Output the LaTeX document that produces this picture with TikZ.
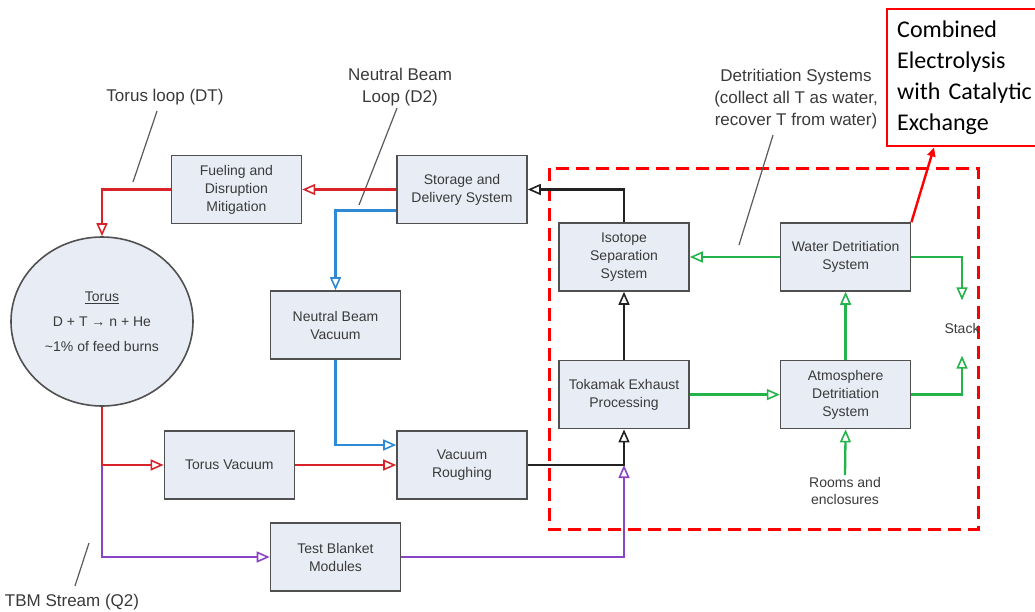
\documentclass[tikz,border=0pt]{standalone}
\usepackage{fontspec}
\setmainfont{Liberation Sans}
\newfontfamily\calibrifont{Carlito}
\usepackage{xcolor}
\usepackage{tikz}
\usetikzlibrary{arrows.meta,positioning,shapes.geometric}
\definecolor{boxfill}{HTML}{E8EDF5}
\definecolor{boxline}{HTML}{505050}
\definecolor{txtgray}{HTML}{3A3A3A}
\definecolor{flowred}{HTML}{D9232A}
\definecolor{flowblue}{HTML}{2F8AD6}
\definecolor{flowgreen}{HTML}{25B34B}
\definecolor{flowpurple}{HTML}{8A45C4}
\definecolor{flowblack}{HTML}{222222}
\definecolor{leadgray}{HTML}{5A5A5A}

\begin{document}
\begin{tikzpicture}[x=1pt,y=-1pt,>={Triangle[open,length=13pt,width=11pt,line width=1.6pt]},
    sysbox/.style={draw=boxline,fill=boxfill,line width=1.6pt,minimum width=130pt,minimum height=68pt,
      align=center,text=txtgray,font=\fontsize{14}{18}\selectfont},
    note/.style={text=txtgray,align=center,inner sep=2pt,font=\fontsize{17}{22}\selectfont},
    plaintext/.style={text=txtgray,align=center,inner sep=2pt,font=\fontsize{14}{17}\selectfont},
    flow/.style={line width=2.3pt,->},
    redflow/.style={flow,draw=flowred},
    blueflow/.style={flow,draw=flowblue},
    greenflow/.style={flow,draw=flowgreen},
    purpleflow/.style={flow,draw=flowpurple},
    blackflow/.style={flow,draw=flowblack},
    leader/.style={draw=leadgray,line width=1.2pt},
    detritbox/.style={draw=red,line width=3pt,dash pattern=on 13pt off 7pt},
    combline/.style={draw=red,line width=2.4pt,-{Triangle[length=9pt,width=8pt]}}]
  \useasboundingbox (0,0) rectangle (1035,611);

  % detritiation area
  \draw[detritbox] (549,168) rectangle (978,529);

  % systems
  \node[sysbox] (store) at (462,189.5) {Storage and\\Delivery System};
  \node[sysbox,left=94pt of store] (fuel) {Fueling and\\Disruption\\Mitigation};
  \node[sysbox] (nbv) at (335.5,325) {Neutral Beam\\Vacuum};
  \node[sysbox] (rough) at (462,465) {Vacuum\\Roughing};
  \node[sysbox,left=101pt of rough] (tvac) {Torus Vacuum};
  \node[sysbox] (tbm) at (335.5,557) {Test Blanket\\Modules};
  \node[sysbox] (iso) at (624,257) {Isotope\\Separation\\System};
  \node[sysbox,below=68pt of iso] (tok) {Tokamak Exhaust\\Processing};
  \node[sysbox,right=90pt of iso] (water) {Water Detritiation\\System};
  \node[sysbox,below=68pt of water] (atm) {Atmosphere\\Detritiation\\System};
  \node[ellipse,draw=boxline,fill=boxfill,line width=1.6pt,minimum width=182pt,minimum height=169pt,
    align=center,text=txtgray,font=\fontsize{14}{25}\selectfont] (torus) at (102,321.5)
    {\underline{Torus}\\D + T → n + He\\\textasciitilde1\% of feed burns};
  \node[plaintext] (rooms) at (845,491) {Rooms and\\enclosures};
  \node[plaintext,minimum height=55pt,inner sep=0pt] (stack) at (962,328) {Stack};
  \node[draw=red,line width=2.4pt,anchor=north west,minimum height=137pt,text width=140pt,
    inner xsep=10pt,align=left,font=\calibrifont\fontsize{24}{31}\selectfont] (comb) at (886,8)
    {Combined\\Electrolysis\\with Catalytic\\Exchange};

  % labels
  \node[note] (dtloop) at (165,97) {Torus loop (DT)};
  \node[note] (nbloop) at (400,87) {Neutral Beam\\Loop (D2)};
  \node[note] (detrit) at (796,99) {Detritiation Systems\\(collect all T as water,\\recover T from water)};
  \node[note] (tbmnote) at (72,602) {TBM Stream (Q2)};
  \coordinate (dtpin) at (133,182);
  \coordinate (nbpin) at (359,205);
  \coordinate (detpin) at (739,245);
  \coordinate (tbmpin) at (89,543);
  \draw[leader] ([shift={(-8pt,-4pt)}]dtloop.south) -- (dtpin);
  \draw[leader] ([xshift=-3pt]nbloop.south) -- (nbpin);
  \draw[leader] ([shift={(-23pt,-4pt)}]detrit.south) -- (detpin);
  \draw[leader] ([shift={(3pt,6pt)}]tbmnote.north) -- (tbmpin);

  % fuel loops
  \draw[redflow] (store.west) -- (fuel.east);
  \draw[redflow] (fuel.west) -| (torus.north);
  \draw[blueflow] ([yshift=-21pt]store.west) -| (nbv.north);
  \draw[blueflow] (nbv.south) |- ([yshift=20pt]rough.west);
  \draw[redflow] (tvac.east) -- (rough.west);
  \coordinate (split) at (torus.south |- tvac.west);
  \draw[purpleflow] (split) |- (tbm.west);
  \draw[redflow] (torus.south) |- (tvac.west);
  \coordinate (merge) at (tok.south |- rough.east);
  \draw[purpleflow] (tbm.east) -| (merge);
  \draw[blackflow] (rough.east) -| (tok.south);
  \draw[blackflow] (tok.north) -- (iso.south);
  \draw[blackflow] (iso.north) |- (store.east);

  % detritiation
  \draw[greenflow] (water.west) -- (iso.east);
  \draw[greenflow] (tok.east) -- (atm.west);
  \draw[greenflow] (atm.north) -- (water.south);
  \draw[greenflow] (rooms.north) -- (atm.south);
  \draw[greenflow] (water.east) -| (stack.north);
  \draw[greenflow] (atm.east) -| (stack.south);
  \draw[combline] (water.north east) -- ([xshift=48pt]comb.south west);
\end{tikzpicture}
\end{document}
